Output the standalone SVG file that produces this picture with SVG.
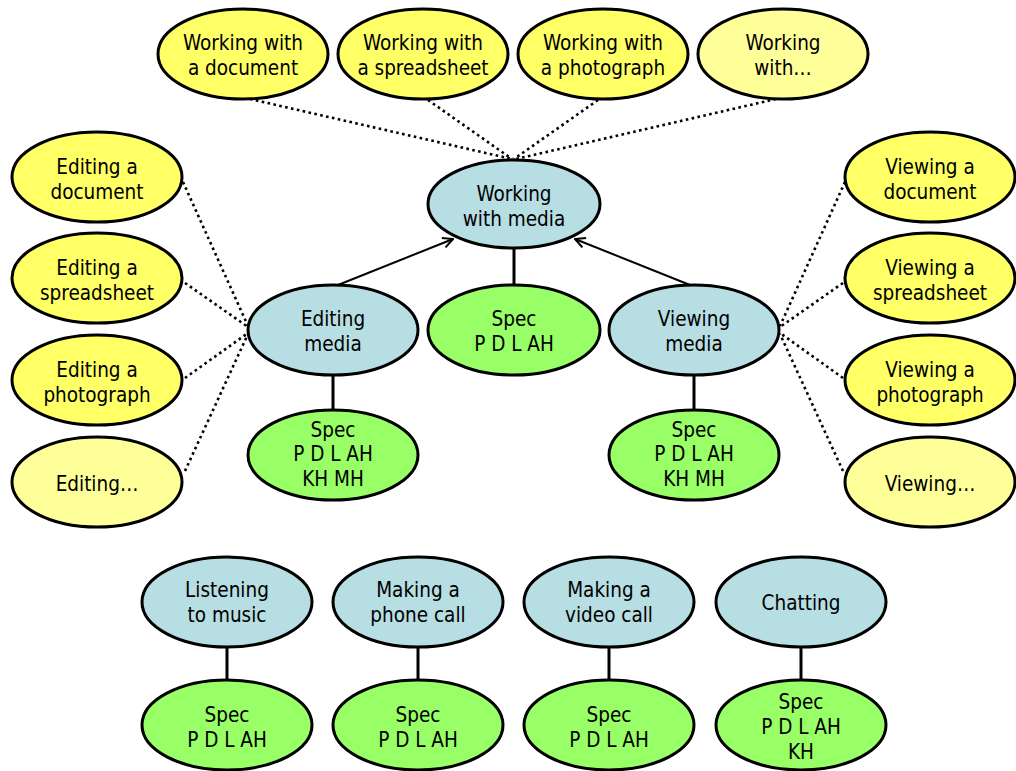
<svg xmlns="http://www.w3.org/2000/svg" width="1016" height="771" viewBox="0 0 1016 771">
  <style>
    .n { stroke: #000; stroke-width: 3; }
    .yel { fill: #ffff66; }
    .pale { fill: #ffff99; }
    .blue { fill: #b7dee3; }
    .green { fill: #99ff66; }
    text { font-family: "DejaVu Sans Condensed", "DejaVu Sans", sans-serif; font-size: 20.5px; fill: #000; text-anchor: middle; }
    .dot { stroke: #000; stroke-width: 2.6; stroke-dasharray: 2.6 3.4; fill: none; }
    .solid { stroke: #000; stroke-width: 3; fill: none; }
    .arr { stroke: #000; stroke-width: 2; fill: none; marker-end: url(#open); }
  </style>
  <defs>
    <marker id="open" viewBox="0 0 12 12" refX="11" refY="6" markerWidth="12" markerHeight="12" markerUnits="userSpaceOnUse" orient="auto">
      <path d="M1,1 L11,6 L1,11" fill="none" stroke="#000" stroke-width="2"/>
    </marker>
  </defs>
  <rect width="1016" height="771" fill="#fff"/>

  <!-- connectors -->
  <g id="connectors">
    <!-- working-with variants -->
    <line class="dot" x1="250" y1="99" x2="512" y2="159"/>
    <line class="dot" x1="428" y1="100" x2="512" y2="159"/>
    <line class="dot" x1="598" y1="100" x2="514" y2="159"/>
    <line class="dot" x1="776" y1="99" x2="516" y2="159"/>
    <!-- editing variants -->
    <line class="dot" x1="183" y1="182" x2="248" y2="326"/>
    <line class="dot" x1="185" y1="283" x2="248" y2="327"/>
    <line class="dot" x1="185" y1="378" x2="248" y2="333"/>
    <line class="dot" x1="185" y1="471" x2="248" y2="334"/>
    <!-- viewing variants -->
    <line class="dot" x1="845" y1="182" x2="780" y2="326"/>
    <line class="dot" x1="843" y1="283" x2="780" y2="327"/>
    <line class="dot" x1="843" y1="378" x2="780" y2="333"/>
    <line class="dot" x1="843" y1="471" x2="780" y2="334"/>
    <!-- specialisation arrows -->
    <line class="arr" x1="338" y1="285" x2="453" y2="239"/>
    <line class="arr" x1="690" y1="285" x2="575" y2="239"/>
    <!-- spec links -->
    <line class="solid" x1="514" y1="249" x2="514" y2="285"/>
    <line class="solid" x1="333" y1="375" x2="333" y2="410"/>
    <line class="solid" x1="694" y1="375" x2="694" y2="410"/>
    <line class="solid" x1="227" y1="647" x2="227" y2="680"/>
    <line class="solid" x1="418" y1="647" x2="418" y2="680"/>
    <line class="solid" x1="609" y1="647" x2="609" y2="680"/>
    <line class="solid" x1="801" y1="647" x2="801" y2="680"/>
  </g>

  <!-- top row -->
  <g id="work-document">
    <ellipse class="n yel" cx="243" cy="54" rx="85" ry="45"/>
    <text x="243" y="50">Working with</text><text x="243" y="75">a document</text>
  </g>
  <g id="work-spreadsheet">
    <ellipse class="n yel" cx="423" cy="54" rx="85" ry="45"/>
    <text x="423" y="50">Working with</text><text x="423" y="75">a spreadsheet</text>
  </g>
  <g id="work-photograph">
    <ellipse class="n yel" cx="603" cy="54" rx="85" ry="45"/>
    <text x="603" y="50">Working with</text><text x="603" y="75">a photograph</text>
  </g>
  <g id="work-other">
    <ellipse class="n pale" cx="783" cy="54" rx="85" ry="45"/>
    <text x="783" y="50">Working</text><text x="783" y="75">with…</text>
  </g>

  <!-- centre -->
  <g id="working-media">
    <ellipse class="n blue" cx="514" cy="204" rx="86" ry="44"/>
    <text x="514" y="201">Working</text><text x="514" y="226">with media</text>
  </g>
  <g id="spec-media">
    <ellipse class="n green" cx="514" cy="330" rx="86" ry="45"/>
    <text x="514" y="326">Spec</text><text x="514" y="351">P D L AH</text>
  </g>
  <g id="editing-media">
    <ellipse class="n blue" cx="333" cy="330" rx="85" ry="45"/>
    <text x="333" y="326">Editing</text><text x="333" y="351">media</text>
  </g>
  <g id="viewing-media">
    <ellipse class="n blue" cx="694" cy="330" rx="85" ry="45"/>
    <text x="694" y="326">Viewing</text><text x="694" y="351">media</text>
  </g>
  <g id="spec-editing">
    <ellipse class="n green" cx="333" cy="455" rx="85" ry="45"/>
    <text x="333" y="437">Spec</text><text x="333" y="461">P D L AH</text><text x="333" y="486">KH MH</text>
  </g>
  <g id="spec-viewing">
    <ellipse class="n green" cx="694" cy="455" rx="85" ry="45"/>
    <text x="694" y="437">Spec</text><text x="694" y="461">P D L AH</text><text x="694" y="486">KH MH</text>
  </g>

  <!-- left column -->
  <g id="edit-document">
    <ellipse class="n yel" cx="97" cy="177" rx="85" ry="45"/>
    <text x="97" y="174">Editing a</text><text x="97" y="199">document</text>
  </g>
  <g id="edit-spreadsheet">
    <ellipse class="n yel" cx="97" cy="278" rx="85" ry="45"/>
    <text x="97" y="275">Editing a</text><text x="97" y="300">spreadsheet</text>
  </g>
  <g id="edit-photograph">
    <ellipse class="n yel" cx="97" cy="380" rx="85" ry="45"/>
    <text x="97" y="377">Editing a</text><text x="97" y="402">photograph</text>
  </g>
  <g id="edit-other">
    <ellipse class="n pale" cx="97" cy="482" rx="85" ry="45"/>
    <text x="97" y="491">Editing…</text>
  </g>

  <!-- right column -->
  <g id="view-document">
    <ellipse class="n yel" cx="930" cy="177" rx="85" ry="45"/>
    <text x="930" y="174">Viewing a</text><text x="930" y="199">document</text>
  </g>
  <g id="view-spreadsheet">
    <ellipse class="n yel" cx="930" cy="278" rx="85" ry="45"/>
    <text x="930" y="275">Viewing a</text><text x="930" y="300">spreadsheet</text>
  </g>
  <g id="view-photograph">
    <ellipse class="n yel" cx="930" cy="380" rx="85" ry="45"/>
    <text x="930" y="377">Viewing a</text><text x="930" y="402">photograph</text>
  </g>
  <g id="view-other">
    <ellipse class="n pale" cx="930" cy="482" rx="85" ry="45"/>
    <text x="930" y="491">Viewing…</text>
  </g>

  <!-- bottom row -->
  <g id="listening">
    <ellipse class="n blue" cx="227" cy="602" rx="85" ry="45"/>
    <text x="227" y="597">Listening</text><text x="227" y="622">to music</text>
  </g>
  <g id="phone-call">
    <ellipse class="n blue" cx="418" cy="602" rx="85" ry="45"/>
    <text x="418" y="597">Making a</text><text x="418" y="622">phone call</text>
  </g>
  <g id="video-call">
    <ellipse class="n blue" cx="609" cy="602" rx="85" ry="45"/>
    <text x="609" y="597">Making a</text><text x="609" y="622">video call</text>
  </g>
  <g id="chatting">
    <ellipse class="n blue" cx="801" cy="602" rx="85" ry="45"/>
    <text x="801" y="610">Chatting</text>
  </g>
  <g id="spec-listening">
    <ellipse class="n green" cx="227" cy="725" rx="85" ry="45"/>
    <text x="227" y="722">Spec</text><text x="227" y="747">P D L AH</text>
  </g>
  <g id="spec-phone">
    <ellipse class="n green" cx="418" cy="725" rx="85" ry="45"/>
    <text x="418" y="722">Spec</text><text x="418" y="747">P D L AH</text>
  </g>
  <g id="spec-video">
    <ellipse class="n green" cx="609" cy="725" rx="85" ry="45"/>
    <text x="609" y="722">Spec</text><text x="609" y="747">P D L AH</text>
  </g>
  <g id="spec-chatting">
    <ellipse class="n green" cx="801" cy="725" rx="85" ry="45"/>
    <text x="801" y="709">Spec</text><text x="801" y="734">P D L AH</text><text x="801" y="759">KH</text>
  </g>
</svg>
